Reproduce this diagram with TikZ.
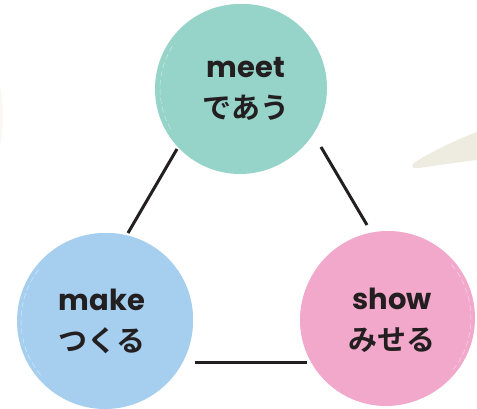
\documentclass[tikz,border=0pt]{standalone}
\usepackage{fontspec}
\setmainfont{Poppins}
\newfontfamily\latinf{Poppins}[UprightFont=* SemiBold, BoldFont=* Bold]
\newfontfamily\jpf{Noto Sans CJK JP Bold}
\definecolor{teal}{HTML}{96D3C8}
\definecolor{skyb}{HTML}{A6CFEF}
\definecolor{pinkc}{HTML}{F2A8CA}
\definecolor{beige}{HTML}{EEEBE1}
\definecolor{faint}{HTML}{F9F8F5}
\definecolor{ink}{HTML}{231F20}
\tikzset{
  blob/.style={circle, inner sep=0pt, draw=none},
  lbl/.style={align=center, text=ink, inner sep=0pt, font=\fontsize{29}{41}\selectfont},
  conn/.style={draw=ink, line width=3pt},
  sheen/.style={draw=white, line width=0.5pt, opacity=0.5, dash pattern=on 6pt off 3pt}
}
\begin{document}
\begin{tikzpicture}[x=1pt,y=-1pt]
\useasboundingbox (0,0) rectangle (477,409);
% background decorations
\fill[beige] (477,132) .. controls (455,140) and (425,155) .. (414,163)
  .. controls (410,167) and (413,169) .. (419,168)
  .. controls (440,165) and (460,162) .. (477,160) -- cycle;
\fill[faint] (0,86) .. controls (4,100) and (4,130) .. (0,146) -- cycle;
% circles
\node[blob, fill=teal, minimum size=170pt] (meetc) at (240,89) {};
\fill[teal] (243,88) circle (84pt);
\draw[sheen] (240,89) ++(150:80) arc (150:215:80);
\node[blob, fill=skyb, minimum size=176pt] (makec) at (105,321) {};
\fill[skyb] (107,319) circle (86pt);
\draw[sheen] (105,321) ++(140:84) arc (140:220:84);
\node[blob, fill=pinkc, minimum size=174pt] (showc) at (388,318) {};
\fill[pinkc] (386,320) circle (86pt);
\draw[sheen] (388,318) ++(-40:83) arc (-40:40:83);
% labels
\node[lbl] (meet) at (246,89) {{\latinf\bfseries meet}\\{\jpf であう}};
\node[lbl] (make) at (102,321) {{\latinf\bfseries make}\\{\jpf つくる}};
\node[lbl] (show) at (392,320) {{\latinf\bfseries show}\\{\jpf みせる}};
% connector ends
\coordinate (tl) at (177,149);
\coordinate (lt) at (128,233);
\coordinate (tr) at (321,147);
\coordinate (rt) at (367,225);
\coordinate (lr) at (195,362);
\coordinate (rl) at (307,362);
\draw[conn] (tl) -- (lt);
\draw[conn] (tr) -- (rt);
\draw[conn] (lr) -- (rl);
\end{tikzpicture}
\end{document}
